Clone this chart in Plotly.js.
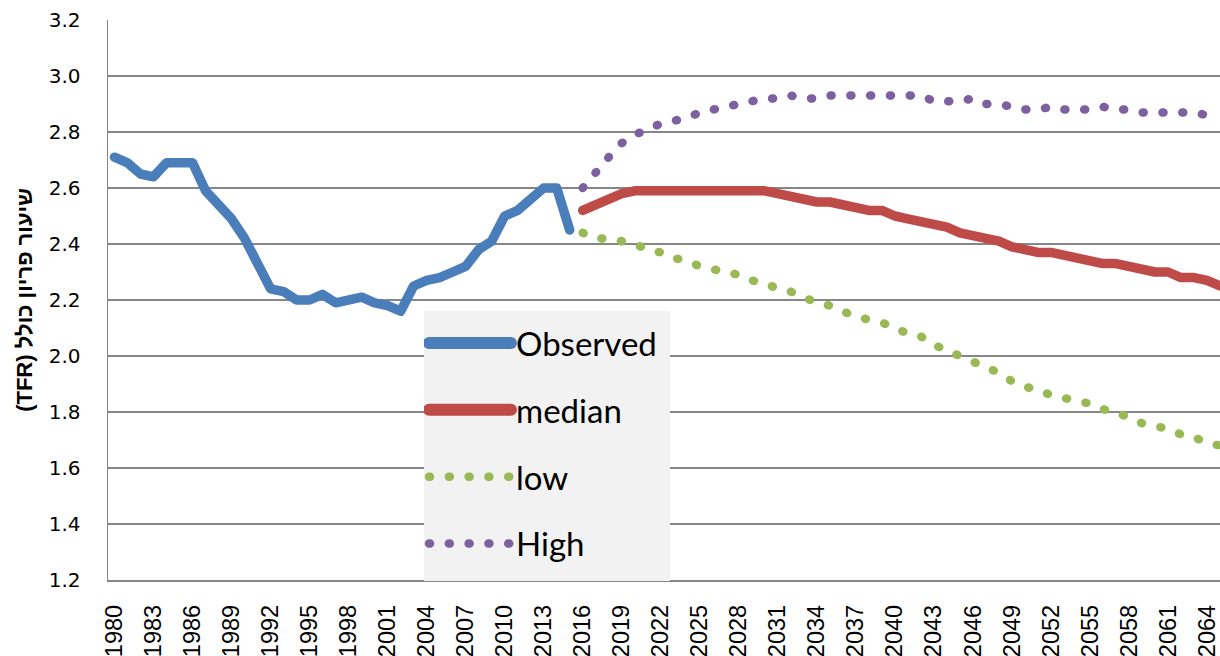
<!DOCTYPE html>
<html><head><meta charset="utf-8">
<script src="https://cdn.plot.ly/plotly-3.0.1.min.js"></script>
<style>
html,body{margin:0;padding:0;background:#fff;}
#chart{width:1220px;height:656px;}
.js-line{stroke-linecap:round !important;stroke-linejoin:round !important;}
.ytitle{direction:rtl;unicode-bidi:embed;}
.legend .groups:nth-of-type(1) .js-line,.legend .groups:nth-of-type(2) .js-line{stroke-width:12px !important;}
</style></head><body><div id="chart"></div>
<script>
const observedYears = [1980,1981,1982,1983,1984,1985,1986,1987,1988,1989,1990,1991,1992,1993,1994,1995,1996,1997,1998,1999,2000,2001,2002,2003,2004,2005,2006,2007,2008,2009,2010,2011,2012,2013,2014,2015];
const observedTFR = [2.71,2.69,2.65,2.64,2.69,2.69,2.69,2.59,2.54,2.49,2.42,2.33,2.24,2.23,2.20,2.20,2.22,2.19,2.20,2.21,2.19,2.18,2.16,2.25,2.27,2.28,2.30,2.32,2.38,2.41,2.50,2.52,2.56,2.60,2.60,2.45];
const projYears = [2016,2017,2018,2019,2020,2021,2022,2023,2024,2025,2026,2027,2028,2029,2030,2031,2032,2033,2034,2035,2036,2037,2038,2039,2040,2041,2042,2043,2044,2045,2046,2047,2048,2049,2050,2051,2052,2053,2054,2055,2056,2057,2058,2059,2060,2061,2062,2063,2064,2065];
const medianTFR = [2.52,2.54,2.56,2.58,2.59,2.59,2.59,2.59,2.59,2.59,2.59,2.59,2.59,2.59,2.59,2.58,2.57,2.56,2.55,2.55,2.54,2.53,2.52,2.52,2.50,2.49,2.48,2.47,2.46,2.44,2.43,2.42,2.41,2.39,2.38,2.37,2.37,2.36,2.35,2.34,2.33,2.33,2.32,2.31,2.30,2.30,2.28,2.28,2.27,2.25];
const lowTFR = [2.44,2.42,2.42,2.41,2.40,2.38,2.37,2.35,2.34,2.32,2.31,2.30,2.29,2.27,2.26,2.24,2.23,2.21,2.19,2.18,2.16,2.14,2.13,2.12,2.10,2.08,2.07,2.04,2.02,2.00,1.98,1.96,1.94,1.91,1.89,1.88,1.86,1.85,1.84,1.83,1.81,1.80,1.78,1.76,1.75,1.74,1.72,1.71,1.69,1.68];
const highTFR = [2.60,2.66,2.71,2.76,2.79,2.81,2.83,2.84,2.85,2.87,2.88,2.89,2.90,2.91,2.92,2.92,2.93,2.92,2.92,2.93,2.93,2.93,2.93,2.93,2.93,2.93,2.93,2.91,2.91,2.91,2.92,2.90,2.90,2.89,2.88,2.88,2.89,2.88,2.88,2.88,2.89,2.88,2.88,2.87,2.87,2.87,2.87,2.87,2.86,2.86];
const xTickYears = [1980,1983,1986,1989,1992,1995,1998,2001,2004,2007,2010,2013,2016,2019,2022,2025,2028,2031,2034,2037,2040,2043,2046,2049,2052,2055,2058,2061,2064];
const seriesNames = ['Observed','median','low','High'];
const seriesColors = ['#4a7ebb','#be4b48','#98b954','#7d60a0'];
const yTitle = 'שיעור פריון כולל (TFR)';

const dotDash = '1px,18.8px';
const traces = [
  {x: observedYears, y: observedTFR, name: seriesNames[0], legendgroup: 'g0', mode: 'lines', line: {color: seriesColors[0], width: 9.5}},
  {x: projYears, y: medianTFR, name: seriesNames[1], legendgroup: 'g1', mode: 'lines', line: {color: seriesColors[1], width: 9.5}},
  {x: projYears, y: lowTFR, name: seriesNames[2], legendgroup: 'g2', mode: 'lines', line: {color: seriesColors[2], width: 8.5, dash: dotDash}},
  {x: projYears, y: highTFR, name: seriesNames[3], legendgroup: 'g3', mode: 'lines', line: {color: seriesColors[3], width: 8.5, dash: dotDash}}
];

const layout = {
  width: 1220, height: 656,
  margin: {l: 108, r: 0, t: 20, b: 76, pad: 0},
  paper_bgcolor: '#ffffff', plot_bgcolor: '#ffffff',
  showlegend: true,
  xaxis: {
    range: [1979.5, 2065.0], tickmode: 'array', tickvals: xTickYears, tickangle: -90,
    tickfont: {family: 'Liberation Sans, Arial, sans-serif', size: 23.5, color: '#000'},
    showgrid: false, zeroline: false, showline: true, linecolor: '#868686', linewidth: 1.5,
    ticks: '', ticklabelstandoff: 14, ticklabeloverflow: 'allow', automargin: false, fixedrange: true
  },
  yaxis: {
    range: [1.2, 3.2], tickmode: 'linear', tick0: 1.2, dtick: 0.2, tickformat: '.1f',
    tickfont: {family: 'DejaVu Sans, sans-serif', size: 20, color: '#000'},
    showgrid: true, gridcolor: '#868686', gridwidth: 1.5, zeroline: false,
    showline: true, linecolor: '#868686', linewidth: 1.5,
    ticks: '', ticklabelstandoff: 22, automargin: false, fixedrange: true,
    title: {text: yTitle, standoff: 10,
      font: {family: 'Liberation Sans, Arial, sans-serif', size: 22, color: '#000', weight: 'bold'}}
  },
  shapes: [{
    type: 'rect', xref: 'paper', yref: 'paper', layer: 'above',
    x0: 0.28417, x1: 0.5054, y0: -0.002, y1: 0.48036,
    fillcolor: '#f2f2f2', line: {width: 0}
  }],
  legend: {
    x: 0.2842, y: 0.4733, xanchor: 'left', yanchor: 'top',
    bgcolor: 'rgba(0,0,0,0)', borderwidth: 0,
    font: {family: 'Lato, sans-serif', size: 33, color: '#000'},
    itemwidth: 82, tracegroupgap: 21, traceorder: 'grouped'
  }
};

Plotly.newPlot('chart', traces, layout, {displayModeBar: false, staticPlot: true});
</script></body></html>
